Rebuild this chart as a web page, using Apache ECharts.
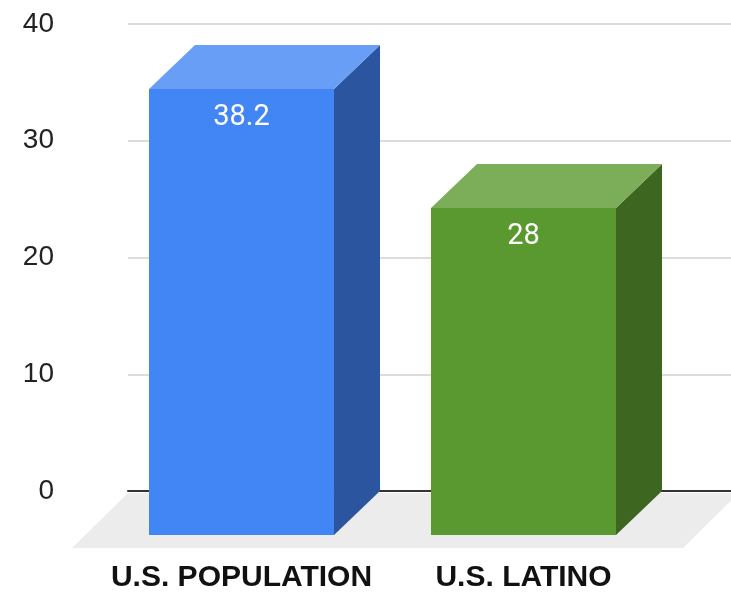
<!DOCTYPE html>
<html>
<head>
<meta charset="utf-8">
<style>
  html, body { margin: 0; padding: 0; background: #ffffff; }
  #chart { width: 731px; height: 592px; }
</style>
<script src="https://cdn.jsdelivr.net/npm/echarts@6/dist/echarts.min.js"></script>
</head>
<body>
<div id="chart"></div>
<script>
// Categories and values
const categories = ['U.S. POPULATION', 'U.S. LATINO'];
const values = [38.2, 28];
const yTicks = [0, 10, 20, 30, 40];

// Face colours per bar: front, top, side
const faceColors = [
  { front: '#4285f4', top: '#689ef5', side: '#2b569f' },
  { front: '#5a992f', top: '#7cae5a', side: '#3d6621' }
];

// 3D projection offsets (back plane -> front plane)
const DEPTH_X = 46;
const DEPTH_Y = 44;
const FLOOR_X = 56;
const FLOOR_Y = 55;
const BAR_FRACTION = 0.656;

const chart = echarts.init(document.getElementById('chart'), null, { renderer: 'canvas' });

function renderBar(params, api) {
  const idx = params.dataIndex;
  const top = api.coord([api.value(0), api.value(1)]);
  const base = api.coord([api.value(0), 0]);
  const w = api.size([1, 0])[0] * BAR_FRACTION;
  const x0 = top[0] - w / 2, x1 = top[0] + w / 2;
  const yt = top[1], yb = base[1];
  const c = faceColors[idx];
  const fx0 = x0 - DEPTH_X, fx1 = x1 - DEPTH_X;
  const fyt = yt + DEPTH_Y, fyb = yb + DEPTH_Y;
  const cx = (fx0 + fx1) / 2;
  return {
    type: 'group',
    children: [
      { type: 'polygon', shape: { points: [[fx1, fyt], [x1, yt], [x1, yb], [fx1, fyb]] },
        style: { fill: c.side } },
      { type: 'polygon', shape: { points: [[fx0, fyt], [x0, yt], [x1, yt], [fx1, fyt]] },
        style: { fill: c.top } },
      { type: 'rect', shape: { x: fx0, y: fyt, width: fx1 - fx0, height: fyb - fyt },
        style: { fill: c.front } },
      { type: 'text', x: cx, y: fyt + 29,
        style: { text: String(values[idx]), fill: '#ffffff', font: '29px Roboto',
                 align: 'center', verticalAlign: 'middle' } },
      { type: 'text', x: cx, y: 578,
        style: { text: categories[idx], fill: '#111111', font: 'bold 30px "Liberation Sans", Arial',
                 align: 'center', verticalAlign: 'middle' } }
    ]
  };
}

function renderFloor(params, api) {
  const cs = params.coordSys;
  const y0 = api.coord([0, 0])[1] + 2;
  const xl = cs.x, xr = cs.x + cs.width + 8;
  return {
    type: 'polygon',
    shape: { points: [[xl, y0], [xr, y0], [xr - FLOOR_X, y0 + FLOOR_Y], [xl - FLOOR_X, y0 + FLOOR_Y]] },
    style: { fill: '#ececec' },
    z2: 0
  };
}

chart.setOption({
  animation: false,
  backgroundColor: '#ffffff',
  grid: [
    { left: 128, right: 0, top: 24, bottom: 101 },
    { left: 146.5, right: 20.5, top: 24, bottom: 101 }
  ],
  xAxis: [
    { gridIndex: 0, type: 'value', min: 0, max: 1,
      axisLine: { show: true, onZero: true, lineStyle: { color: '#333333', width: 2 } },
      axisTick: { show: false }, axisLabel: { show: false }, splitLine: { show: false } },
    { gridIndex: 1, type: 'category', data: categories,
      axisLine: { show: false }, axisTick: { show: false }, axisLabel: { show: false } }
  ],
  yAxis: [
    { gridIndex: 0, type: 'value', min: yTicks[0], max: yTicks[yTicks.length - 1], interval: 10,
      axisLine: { show: false }, axisTick: { show: false },
      axisLabel: { margin: 74, color: '#222222', fontSize: 28, fontFamily: '"Liberation Sans", Arial' },
      splitLine: { lineStyle: { color: '#dcdcdc', width: 2 } } },
    { gridIndex: 1, type: 'value', min: yTicks[0], max: yTicks[yTicks.length - 1], interval: 10,
      show: false }
  ],
  series: [
    { type: 'custom', xAxisIndex: 0, yAxisIndex: 0, z: 1, silent: true,
      renderItem: renderFloor, data: [[0, 0]] },
    { type: 'custom', xAxisIndex: 1, yAxisIndex: 1, z: 5, silent: true,
      renderItem: renderBar,
      data: categories.map((c, i) => [i, values[i]]) }
  ]
});
</script>
</body>
</html>
